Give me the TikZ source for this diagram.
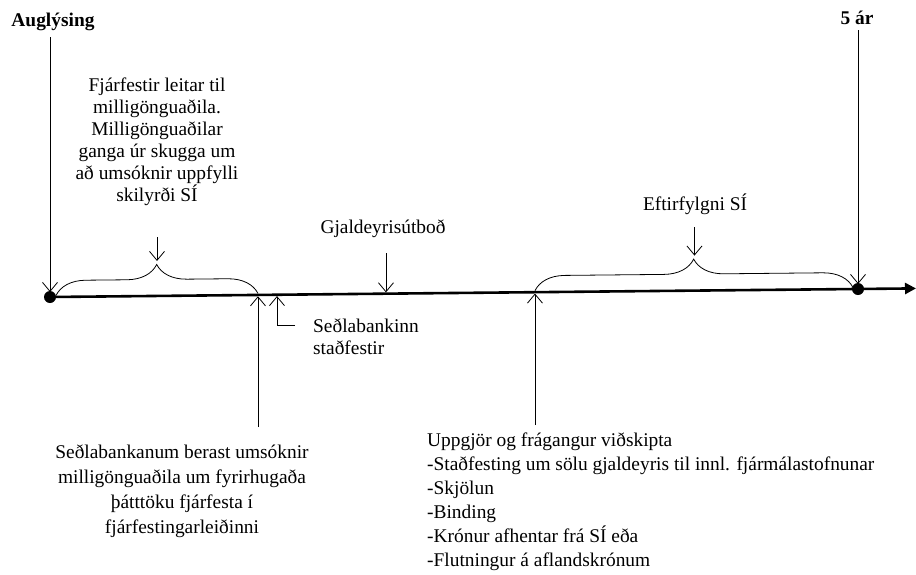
\documentclass[tikz,border=0pt]{standalone}
\usepackage{fontspec}
\setmainfont{Liberation Serif}
\usetikzlibrary{arrows.meta,calc,decorations.pathreplacing}

\begin{document}
\begin{tikzpicture}[x=1pt, y=-1pt,
	txt/.style={align=center, inner sep=0pt, font=\fontsize{19.4}{22}\selectfont},
	lowtxt/.style={txt, font=\fontsize{19.4}{25}\selectfont},
	evt/.style={line width=0.8pt, -{Straight Barb[length=9pt,width=15pt]}, shorten >=1.3pt},
	span/.style={line width=0.8pt, decorate, decoration={brace, amplitude=30pt}}]

\path [use as bounding box] (0,0) rectangle (916,574);

% TIMELINE
\coordinate (t0) at (50,297);
\coordinate (t1) at (858,289);
\coordinate (tend) at (916,288.4);
\draw [line width=2.6pt, -{Triangle[length=11pt,width=11pt]}] (t0) -- (tend);
\fill (t0) circle (6);
\fill (t1) circle (6);

% POINTS ON THE LINE
\coordinate (pbank) at ($(t0)!0.2574!(t1)$);
\coordinate (pconf) at ($(t0)!0.2809!(t1)$);
\coordinate (pauct) at ($(t0)!0.4158!(t1)$);
\coordinate (psett) at ($(t0)!0.6002!(t1)$);

% ENDS
\node [txt, font=\fontsize{19.4}{22}\selectfont\bfseries] (augl) at (53,22) {Auglýsing};
\node [txt, font=\fontsize{19.4}{22}\selectfont\bfseries] (fiveyr) at (857,18) {5 ár};
\coordinate (augl0) at (50,37);
\coordinate (fiveyr0) at (858,30);
\draw [evt, shorten >=5pt] (augl0) -- (t0);
\draw [evt, shorten >=5pt] (fiveyr0) -- (t1);

% BRACES
\draw [span] ($(t0)+(6,-1.5)$) -- ($(pbank)+(0,-1.5)$);
\draw [span] ($(psett)+(0,-1.5)$) -- ($(t1)+(-5,-1.5)$);
\coordinate (fjtip) at ($(t0)!0.5!(pbank)+(3,-32)$);
\coordinate (eftip) at ($(psett)!0.5!(t1)+(-2,-32)$);

% ABOVE THE LINE
\node [txt] (fjarf) at (157,142) {Fjárfestir leitar til\\milligönguaðila.\\Milligönguaðilar\\ganga úr skugga um\\að umsóknir uppfylli\\skilyrði SÍ};
\coordinate (fjarf0) at (fjtip |- 0,237);
\draw [evt, shorten >=3pt] (fjarf0) -- (fjtip);

\node [txt] (auct) at (383,229) {Gjaldeyrisútboð};
\coordinate (auct0) at (pauct |- 0,253);
\draw [evt] (auct0) -- (pauct);

\node [txt] (eftir) at (695,204) {Eftirfylgni SÍ};
\coordinate (eftir0) at (eftip |- 0,227);
\draw [evt, shorten >=3pt] (eftir0) -- (eftip);

% BELOW THE LINE
\node [lowtxt] (bank) at (182,491) {Seðlabankanum berast umsóknir\\milligönguaðila um fyrirhugaða\\þátttöku fjárfesta í\\fjárfestingarleiðinni};
\coordinate (bank0) at (pbank |- 0,427);
\draw [evt] (bank0) -- (pbank);

\node [txt, align=left, anchor=west] (conf) at (313,337) {Seðlabankinn\\staðfestir};
\coordinate (conf0) at (295,325);
\draw [evt] (conf0) -| (pconf);

\node [lowtxt, align=left, font=\fontsize{19.4}{24}\selectfont, anchor=north west] (sett) at (427,433) {Uppgjör og frágangur viðskipta\\-Staðfesting um sölu gjaldeyris til innl. fjármálastofnunar\\-Skjölun\\-Binding\\-Krónur afhentar frá SÍ eða\\-Flutningur á aflandskrónum};
\coordinate (sett0) at (psett |- 0,425);
\draw [evt] (sett0) -- (psett);

\end{tikzpicture}
\end{document}
